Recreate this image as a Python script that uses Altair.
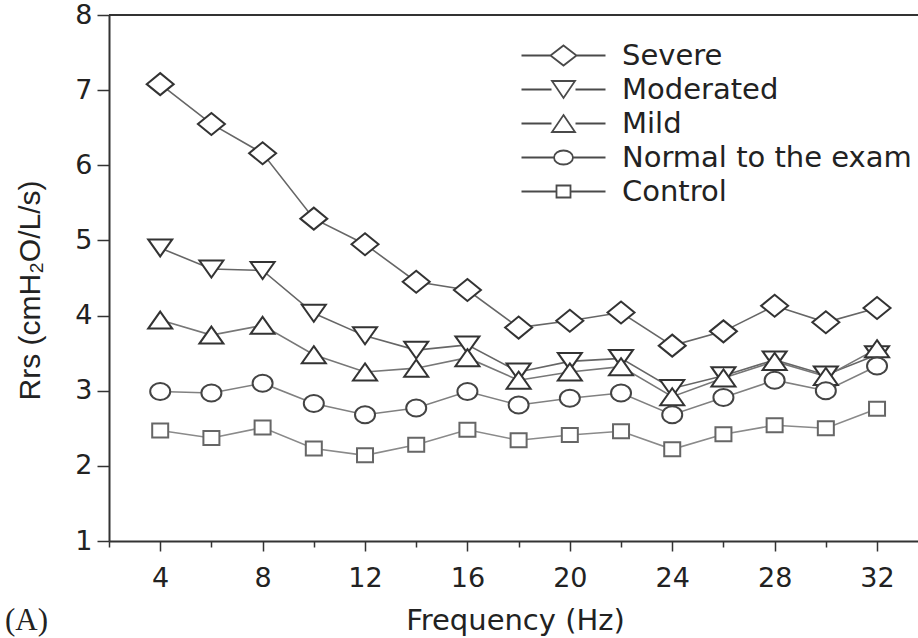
import altair as alt
import pandas as pd

# Respiratory resistance by frequency for each severity group
freq = [4, 6, 8, 10, 12, 14, 16, 18, 20, 22, 24, 26, 28, 30, 32]
severe = [7.08, 6.55, 6.16, 5.29, 4.95, 4.45, 4.34, 3.84, 3.93, 4.04, 3.60, 3.79, 4.13, 3.91, 4.10]
moderated = [4.90, 4.62, 4.60, 4.03, 3.73, 3.54, 3.61, 3.25, 3.39, 3.43, 3.03, 3.20, 3.41, 3.21, 3.48]
mild = [3.94, 3.74, 3.87, 3.48, 3.25, 3.30, 3.44, 3.14, 3.25, 3.32, 2.92, 3.17, 3.39, 3.19, 3.56]
normal = [2.99, 2.97, 3.10, 2.83, 2.68, 2.77, 2.99, 2.81, 2.90, 2.97, 2.68, 2.91, 3.14, 3.00, 3.33]
control = [2.47, 2.37, 2.51, 2.23, 2.14, 2.28, 2.48, 2.34, 2.41, 2.46, 2.22, 2.42, 2.54, 2.50, 2.76]

groups = ["Severe", "Moderated", "Mild", "Normal to the exam", "Control"]
series = [severe, moderated, mild, normal, control]

x_ticks = list(range(2, 33, 2))
y_ticks = [1 + 0.5 * i for i in range(15)]

# styling
line_colors = ["#666666", "#666666", "#777777", "#808080", "#8a8a8a"]
marker_colors = ["#333333", "#333333", "#333333", "#444444", "#666666"]
marker_paths = [
    "M0,-1.1L1.35,0L0,1.1L-1.35,0Z",
    "M-1.2,-0.85L1.2,-0.85L0,0.85Z",
    "M0,-0.85L1.2,0.85L-1.2,0.85Z",
    "M-1,0A1,0.85 0 1,0 1,0A1,0.85 0 1,0 -1,0Z",
    "M-0.8,-0.7H0.8V0.7H-0.8Z",
]
# legend keys: a short line with the marker in the middle
legend_paths = [
    "M-4.2,0H-1.3M1.3,0H4.2M0,-1L1.3,0L0,1L-1.3,0Z",
    "M-4.2,0H-1.2M1.2,0H4.2M-1.15,-0.85L1.15,-0.85L0,0.85Z",
    "M-4.2,0H-1.2M1.2,0H4.2M0,-0.85L1.15,0.85L-1.15,0.85Z",
    "M-4.2,0H-0.95M0.95,0H4.2M-0.95,0A0.95,0.7 0 1,0 0.95,0A0.95,0.7 0 1,0 -0.95,0Z",
    "M-4.2,0H-0.7M0.7,0H4.2M-0.7,-0.6H0.7V0.6H-0.7Z",
]

df = pd.DataFrame(
    [
        {"Frequency": f, "Rrs": v, "Group": g}
        for g, vals in zip(groups, series)
        for f, v in zip(freq, vals)
    ]
)

x_enc = alt.X(
    "Frequency:Q",
    scale=alt.Scale(domain=[2, 33.6], nice=False, zero=False),
    axis=alt.Axis(
        values=x_ticks,
        labelExpr="datum.value % 4 === 0 ? format(datum.value, 'd') : ''",
        tickSize={"condition": {"test": "datum.value % 4 === 0", "value": 10}, "value": 6},
        labelPadding=14,
        title="Frequency (Hz)",
        titleX=406,
        titleY=79,
        titleAlign="center",
        titleBaseline="middle",
        titleFont="DejaVu Sans",
        titleFontSize=29,
    ),
)
y_enc = alt.Y(
    "Rrs:Q",
    scale=alt.Scale(domain=[1, 8], nice=False, zero=False),
    axis=alt.Axis(
        values=y_ticks,
        labelExpr="datum.value % 1 === 0 ? format(datum.value, 'd') : ''",
        tickSize={"condition": {"test": "datum.value % 1 === 0", "value": 12}, "value": 7},
        labelPadding=5,
        title="Rrs (cmH₂O/L/s)",
        titleX=-79,
        titleY=275,
        titleAlign="center",
        titleBaseline="middle",
        titleFont="Liberation Sans",
        titleFontSize=30,
    ),
)

lines = alt.Chart(df).mark_line(strokeWidth=1.6).encode(
    x=x_enc,
    y=y_enc,
    color=alt.Color("Group:N", scale=alt.Scale(domain=groups, range=line_colors), legend=None),
)

points = alt.Chart(df).mark_point(filled=False, fill="white", fillOpacity=1, strokeWidth=2, size=400, opacity=1).encode(
    x="Frequency:Q",
    y="Rrs:Q",
    stroke=alt.Stroke("Group:N", scale=alt.Scale(domain=groups, range=marker_colors), legend=None),
    shape=alt.Shape("Group:N", scale=alt.Scale(domain=groups, range=marker_paths), legend=None),
)

key = alt.Chart(df).transform_filter("false").mark_point(color="#4a4a4a", strokeWidth=1.8).encode(
    x="Frequency:Q",
    y="Rrs:Q",
    shape=alt.Shape(
        "Group:N",
        scale=alt.Scale(domain=groups, range=legend_paths),
        legend=alt.Legend(
            title=None,
            orient="none",
            legendX=440,
            legendY=26,
            padding=0,
            symbolSize=400,
            symbolStrokeWidth=1.8,
            symbolStrokeColor="#4a4a4a",
            symbolFillColor="transparent",
            symbolOpacity=1,
            labelFont="DejaVu Sans",
            labelFontSize=29,
            labelColor="#222222",
            labelOffset=44,
            labelLimit=500,
            rowPadding=4,
        ),
    ),
)

# top frame line
frame_top = alt.Chart(pd.DataFrame({"Rrs": [8]})).mark_rule(color="#333333", strokeWidth=2).encode(
    y=alt.Y("Rrs:Q")
)

panel_tag = alt.Chart(pd.DataFrame({"tag": ["(A)"]})).mark_text(
    font="Liberation Serif", fontSize=31, align="left", baseline="middle", color="#222222"
).encode(text="tag:N", x=alt.value(-104), y=alt.value(606))

chart = (
    alt.layer(lines, points, key, frame_top, panel_tag)
    .resolve_scale(shape="independent")
    .properties(
        width=809,
        height=526,
        autosize=alt.AutoSizeParams(type="none"),
        padding={"left": 109, "top": 15, "right": 0, "bottom": 97},
        background="white",
    )
    .configure_view(stroke=None)
    .configure_axis(
        domainColor="#333333",
        domainWidth=2,
        tickColor="#333333",
        tickWidth=1.5,
        grid=False,
        labelFont="DejaVu Sans",
        labelFontSize=27,
        labelColor="#222222",
        titleColor="#222222",
        titleFontWeight="normal",
    )
)

chart.save("out.html", embed_options={"renderer": "svg", "actions": False})
